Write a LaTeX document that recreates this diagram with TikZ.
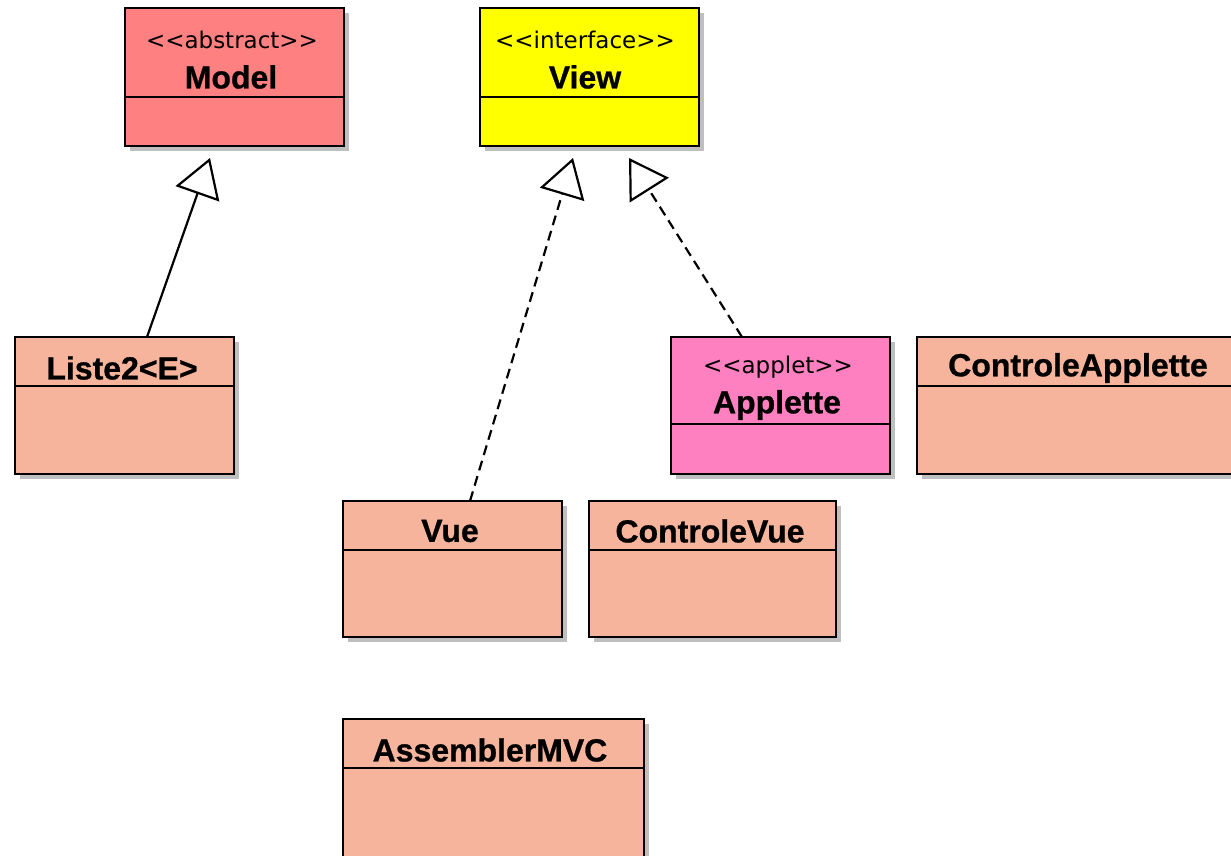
\documentclass[tikz,border=0pt]{standalone}
\usepackage{fontspec}
\setmainfont{Liberation Sans}
\newfontfamily\stfont{DejaVu Sans}
\newfontfamily\ttlfont{Liberation Sans}[BoldFeatures={FakeBold=0.8}]
\usetikzlibrary{arrows.meta,shadows,calc}
\definecolor{modelc}{RGB}{255,128,128}
\definecolor{viewc}{RGB}{255,255,0}
\definecolor{appc}{RGB}{255,128,192}
\definecolor{classc}{RGB}{245,180,155}
\tikzset{
  classbox/.style={draw, line width=2.4pt, inner sep=0pt, outer sep=0pt,
    general shadow={fill=black, opacity=0.25, shadow xshift=5pt, shadow yshift=-5pt}},
  divider/.style={line width=2.2pt},
  title/.style={inner sep=0pt, font=\ttlfont\fontsize{32}{32}\selectfont\bfseries},
  stereo/.style={inner sep=0pt, font=\stfont\fontsize{23}{23}\selectfont},
  gen/.style={line width=2.2pt, -{Triangle[open, length=38pt, width=46pt, line width=2.2pt]}},
  real/.style={gen, dash pattern=on 10pt off 6pt}
}
\newcommand{\umlclass}[7]{%
  \node[classbox, fill=#7, minimum width={#4-#2}, minimum height={#5-#3}]
    (#1) at ({(#2+#4)/2},{(#3+#5)/2}) {};
  \draw[divider] (#1.west |- 0,#6) -- (#1.east |- 0,#6);
}
\begin{document}
\begin{tikzpicture}[x=1pt,y=-1pt]
\useasboundingbox (0,0) rectangle (1231,856);
\clip (0,0) rectangle (1231,856);
\fill[white] (0,0) rectangle (1231,856);

\umlclass{model}{125}{8}{344}{146}{97}{modelc}
\node[stereo] (modelst) at (232,40) {<<abstract>>};
\node[title] (modelname) at (231,77) {Model};

\umlclass{view}{480}{8}{699}{146}{97}{viewc}
\node[stereo] (viewst) at (585,40) {<<interface>>};
\node[title] (viewname) at (585,77) {View};

\umlclass{liste}{15}{337}{234}{474}{386}{classc}
\node[title] (listename) at (122,368) {Liste2<E>};

\umlclass{applette}{671}{337}{890}{474}{424}{appc}
\node[stereo] (appst) at (778,367) {<<applet>>};
\node[title] (appname) at (777,405) {Applette};

\umlclass{capp}{917}{337}{1245}{474}{386}{classc}
\node[title] (cappname) at (1078,368) {ControleApplette};

\umlclass{vue}{343}{501}{562}{637}{550}{classc}
\node[title] (vuename) at (450,531) {Vue};

\umlclass{cvue}{589}{501}{836}{637}{550}{classc}
\node[title] (cvuename) at (710,531) {ControleVue};

\umlclass{asm}{343}{719}{644}{870}{768}{classc}
\node[title] (asmname) at (490,750) {AssemblerMVC};

\coordinate (mtip) at (210,158);
\coordinate (vtip1) at (573,158);
\coordinate (vtip2) at (629,158);

\draw[gen] ([xshift=22.5pt]liste.north) -- (mtip);
\draw[real] ([xshift=17.5pt]vue.north) -- (vtip1);
\draw[real] ([xshift=-38.5pt]applette.north) -- (vtip2);
\end{tikzpicture}
\end{document}
